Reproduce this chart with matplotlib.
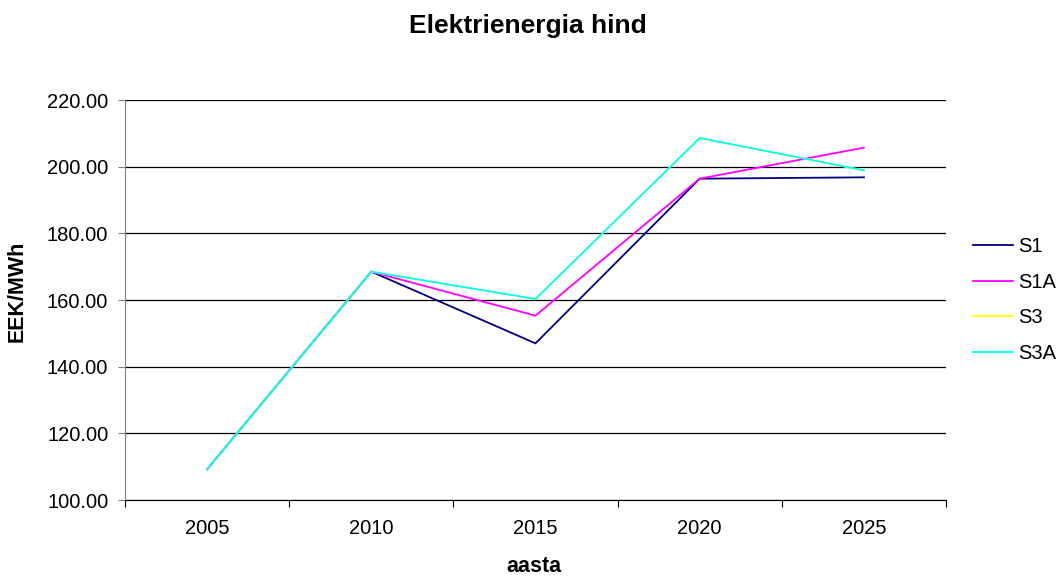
import matplotlib
matplotlib.use("Agg")
import matplotlib.pyplot as plt
from matplotlib.ticker import FixedLocator, FixedFormatter, NullFormatter

years = ["2005", "2010", "2015", "2020", "2025"]
s1 = [109.2, 168.5, 147.0, 196.4, 196.8]
s1a = [109.2, 168.5, 155.3, 196.4, 205.7]
s3 = [109.2, 168.5, 160.3, 208.6, 198.9]
s3a = [109.2, 168.5, 160.3, 208.6, 198.9]
series_names = ["S1", "S1A", "S3", "S3A"]
series_colors = ["#000080", "#FF00FF", "#FFFF00", "#00FFFF"]
yticks = [100, 120, 140, 160, 180, 200, 220]

plt.rcParams['font.family'] = ['Liberation Sans', 'DejaVu Sans']

W, H = 1059, 578
fig = plt.figure(figsize=(W/100, H/100), dpi=100)
ax = fig.add_axes([125/W, 78/H, (946-125)/W, 400/H])

x = list(range(len(years)))
for name, vals, col in zip(series_names, [s1, s1a, s3, s3a], series_colors):
    ax.plot(x, vals, color=col, lw=1.3, label=name, solid_joinstyle='miter')

ax.set_xlim(-0.5, len(years) - 0.5)
ax.set_ylim(100, 220)
ax.set_yticks(yticks)
ax.set_yticklabels([f"{v:.2f}" for v in yticks], fontsize=14.5)
ax.yaxis.grid(True, color="black", lw=0.9)
ax.set_axisbelow(True)

ax.xaxis.set_major_locator(FixedLocator([i - 0.5 for i in range(len(years) + 1)]))
ax.xaxis.set_major_formatter(NullFormatter())
ax.xaxis.set_minor_locator(FixedLocator(x))
ax.xaxis.set_minor_formatter(FixedFormatter(years))
ax.tick_params(axis='x', which='minor', length=0, labelsize=14.5, pad=14)
ax.tick_params(axis='x', which='major', length=5, color='black', direction='out')
ax.tick_params(axis='y', length=5, color='#808080', direction='out', pad=7)

for s in ['top', 'right']:
    ax.spines[s].set_visible(False)
ax.spines['left'].set_color('#808080')
ax.spines['bottom'].set_color('black')

fig.text(533.5/W, 1 - 566/H, "aasta", ha='center', va='center',
         fontsize=15.5, fontweight='bold')
fig.text(17/W, 1 - 291.5/H, "EEK/MWh", ha='center', va='center', rotation=90,
         fontsize=15.5, fontweight='bold')
fig.text(527.5/W, 1 - 33/H, "Elektrienergia hind", ha='center', va='baseline',
         fontsize=19, fontweight='bold')

leg = ax.legend(loc='center left', bbox_to_anchor=(965/W, 1 - 300/H),
                bbox_transform=fig.transFigure, frameon=False, fontsize=14.5,
                handlelength=2.0, labelspacing=0.82, handletextpad=0.25,
                borderaxespad=0)

fig.savefig("out.png", dpi=100)
